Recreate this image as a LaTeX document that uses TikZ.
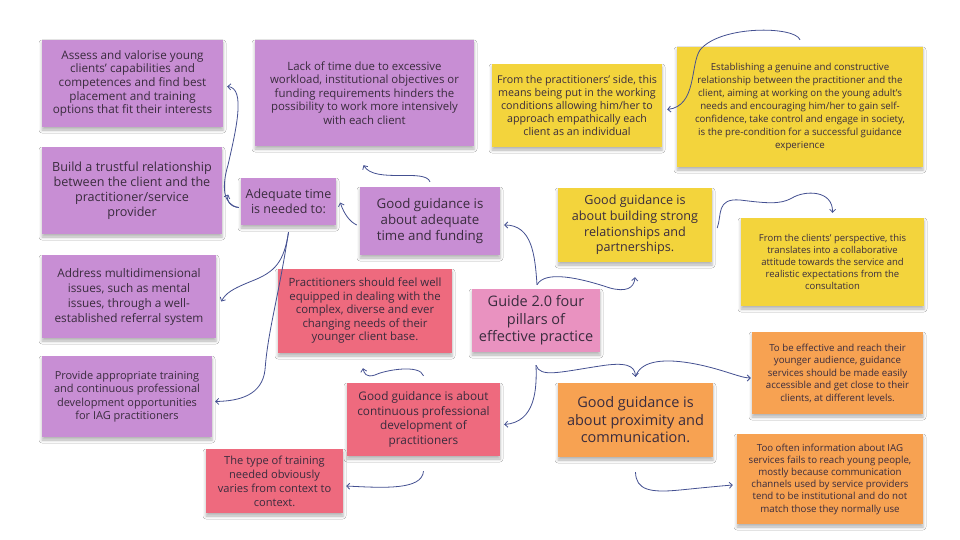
\documentclass[tikz,border=0pt]{standalone}
\usepackage{fontspec}
\setmainfont{Open Sans}
\usetikzlibrary{arrows.meta,shadows.blur,calc}
\definecolor{purp}{RGB}{200,142,212}
\definecolor{yell}{RGB}{243,212,60}
\definecolor{redn}{RGB}{238,106,126}
\definecolor{pink}{RGB}{233,146,192}
\definecolor{oran}{RGB}{247,162,82}
\definecolor{txt}{RGB}{58,44,62}
\definecolor{lin}{RGB}{68,80,145}
\newcommand\fs[2]{\fontsize{#1}{#2}\selectfont}
\tikzset{
  note/.style={rectangle, inner sep=2pt, align=center, text=txt,
    blur shadow={shadow xshift=0pt, shadow yshift=-3pt, shadow blur radius=3pt, shadow opacity=30}},
  conn/.style={draw=lin, line width=0.8pt, -{Straight Barb[length=3pt,width=6pt]}},
}
\begin{document}
\begin{tikzpicture}[x=1pt,y=-1pt]
\fill[white] (0,0) rectangle (960,540);
\useasboundingbox (0,0) rectangle (960,540);
% purple
\node[note, fill=purp, minimum width=181pt, minimum height=87pt, font=\fs{11.7}{13.7}] (assess) at (132.5,83.5)
  {Assess and valorise young\\clients’ capabilities and\\competences and find best\\placement and training\\options that fit their interests};
\node[note, fill=purp, minimum width=180pt, minimum height=87pt, font=\fs{12.6}{15}] (build) at (132,190.5)
  {Build a trustful relationship\\between the client and the\\practitioner/service\\provider};
\node[note, fill=purp, minimum width=174pt, minimum height=83pt, font=\fs{11.8}{15}] (address) at (129,296.5)
  {Address multidimensional\\issues, such as mental\\issues, through a well-\\established referral system};
\node[note, fill=purp, minimum width=170pt, minimum height=81pt, font=\fs{11}{13.3}] (provide) at (127,396.5)
  {Provide appropriate training\\and continuous professional\\development opportunities\\for IAG practitioners};
\node[note, fill=purp, minimum width=219pt, minimum height=106pt, font=\fs{11.4}{13.5}] (lack) at (364.5,93)
  {Lack of time due to excessive\\workload, institutional objectives or\\funding requirements hinders the\\possibility to work more intensively\\with each client};
\node[note, fill=purp, minimum width=95pt, minimum height=47pt, font=\fs{12.5}{15}] (adeq) at (288.5,201.5)
  {Adequate time\\is needed to:};
\node[note, fill=purp, minimum width=140pt, minimum height=68pt, font=\fs{13.3}{16}] (gtime) at (430,221)
  {Good guidance is\\about adequate\\time and funding};
% red
\node[note, fill=redn, minimum width=174pt, minimum height=84pt, font=\fs{11.4}{13.5}] (pract) at (365,311)
  {Practitioners should feel well\\equipped in dealing with the\\complex, diverse and ever\\changing needs of their\\younger client base.};
\node[note, fill=redn, minimum width=153pt, minimum height=73pt, font=\fs{11.8}{14.5}] (gcpd) at (423.5,419.5)
  {Good guidance is about\\continuous professional\\development of\\practitioners};
\node[note, fill=redn, minimum width=137pt, minimum height=64pt, font=\fs{11.1}{14}] (train) at (274.5,481)
  {The type of training\\needed obviously\\varies from context to\\context.};
% pink
\node[note, fill=pink, minimum width=128pt, minimum height=63pt, font=\fs{14.5}{17.5}] (guide) at (536,320.5)
  {Guide 2.0 four\\pillars of\\effective practice};
% yellow
\node[note, fill=yell, minimum width=154pt, minimum height=74pt, font=\fs{12.6}{15.7}] (grel) at (635,225)
  {Good guidance is\\about building strong\\relationships and\\partnerships.};
\node[note, fill=yell, minimum width=170pt, minimum height=83pt, font=\fs{10.7}{12.8}] (pside) at (577,105.5)
  {From the practitioners’ side, this\\means being put in the working\\conditions allowing him/her to\\approach empathically each\\client as an individual};
\node[note, fill=yell, minimum width=246pt, minimum height=120pt, font=\fs{9.7}{12.9}] (estab) at (800,107)
  {Establishing a genuine and constructive\\relationship between the practitioner and the\\client, aiming at working on the young adult’s\\needs and encouraging him/her to gain self-\\confidence, take control and engage in society,\\is the pre-condition for a successful guidance\\experience};
\node[note, fill=yell, minimum width=183pt, minimum height=88pt, font=\fs{9.5}{12}] (client) at (832.5,262)
  {From the clients’ perspective, this\\translates into a collaborative\\attitude towards the service and\\realistic expectations from the\\consultation};
% orange
\node[note, fill=oran, minimum width=155pt, minimum height=74pt, font=\fs{14.5}{17.5}] (gprox) at (635.5,420)
  {Good guidance is\\about proximity and\\communication.};
\node[note, fill=oran, minimum width=171pt, minimum height=82pt, font=\fs{9.7}{12.5}] (effect) at (837.5,373)
  {To be effective and reach their\\younger audience, guidance\\services should be made easily\\accessible and get close to their\\clients, at different levels.};
\node[note, fill=oran, minimum width=186pt, minimum height=90pt, font=\fs{9.7}{12.2}] (often) at (830,479)
  {Too often information about IAG\\services fails to reach young people,\\mostly because communication\\channels used by service providers\\tend to be institutional and do not\\match those they normally use};
% connectors
\draw[conn] ($(adeq.west)+(-2,6)$) .. controls (230,207) and (226,200) .. ($(build.east)+(6,4)$);
\draw[conn] ($(adeq.west)+(-2,6)$) .. controls (222,205) and (222,185) .. (228,165)
  .. controls (236,130) and (246,88) .. ($(assess.east)+(4,3)$);
\draw[conn] ($(adeq.south)+(0,7)$) .. controls (284,262) and (275,272) .. (252,281)
  .. controls (232,289) and (226,293) .. ($(address.east)+(5,5)$);
\draw[conn] ($(adeq.south)+(0,7)$) .. controls (278,300) and (268,330) .. (265,370)
  .. controls (262,395) and (240,401) .. ($(provide.east)+(3,5)$);
\draw[conn] ($(gtime.west)+(-3,4)$) .. controls (350,222) and (344,214) .. ($(adeq.east)+(4,1)$);
\draw[conn] ($(gtime.north)+(0,-5)$) .. controls (425,168) and (375,184) .. ($(lack.south)+(-1,19)$);
\draw[conn] ($(guide.north)+(1,-4)$) .. controls (535,255) and (532,225) .. ($(gtime.east)+(4,4)$);
\draw[conn] ($(guide.north)+(1,-4)$) .. controls (545,270) and (580,278) .. (610,288)
  .. controls (625,292) and (634,289) .. ($(grel.south)+(0,15)$);
\draw[conn] ($(grel.east)+(5,3)$) .. controls (722,215) and (716,198) .. (740,200)
  .. controls (765,203) and (780,205) .. (792,198) .. controls (805,190) and (833,190) .. ($(client.north)+(0,-5)$);
\draw[conn] ($(estab.north)+(0,-7)$) .. controls (795,26) and (720,25) .. (700,50)
  .. controls (690,65) and (697,106) .. ($(pside.east)+(5,4)$);
\draw[conn] ($(guide.south)+(0,13)$) .. controls (537,390) and (535,422) .. ($(gcpd.east)+(4,5)$);
\draw[conn] ($(guide.south)+(0,13)$) .. controls (540,378) and (560,372) .. (600,366)
  .. controls (625,362) and (635,365) .. ($(gprox.north)+(0,-6)$);
\draw[conn] ($(gprox.north)+(0,-6)$) .. controls (640,362) and (660,358) .. (690,363)
  .. controls (720,368) and (740,378) .. ($(effect.west)+(-1,5)$);
\draw[conn] ($(gcpd.north)+(0,-7)$) .. controls (420,364) and (385,370) .. (375,375)
  .. controls (366,378) and (364,373) .. ($(pract.south)+(-2,15)$);
\draw[conn] ($(gcpd.south)+(0,15)$) .. controls (422,490) and (385,488) .. ($(train.east)+(3,5)$);
\draw[conn] ($(gprox.south)+(0,15)$) .. controls (636,490) and (650,493) .. (680,490)
  .. controls (700,488) and (720,486) .. ($(often.west)+(-4,6)$);
\end{tikzpicture}
\end{document}
